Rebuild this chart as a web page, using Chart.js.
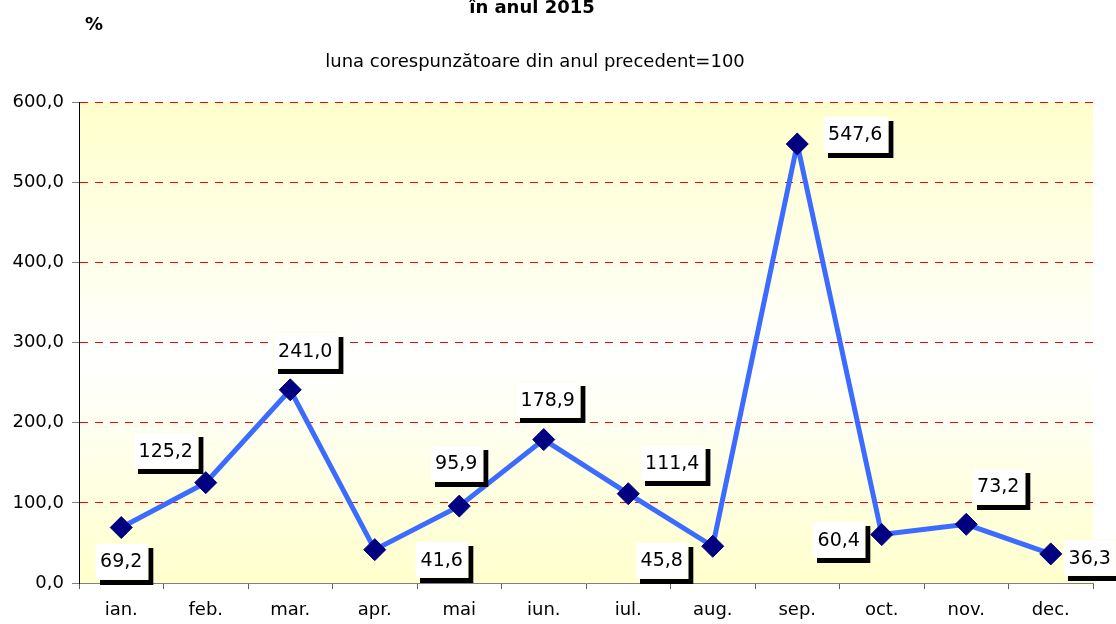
<!DOCTYPE html>
<html>
<head>
<meta charset="utf-8">
<script src="https://cdn.jsdelivr.net/npm/chart.js@4.4.1/dist/chart.umd.min.js"></script>
<style>
  html, body { margin: 0; padding: 0; background: #ffffff; }
  canvas { display: block; }
</style>
</head>
<body>
<canvas id="c" width="1116" height="624"></canvas>
<script>
// ---- data ----
const categories = ['ian.', 'feb.', 'mar.', 'apr.', 'mai', 'iun.', 'iul.', 'aug.', 'sep.', 'oct.', 'nov.', 'dec.'];
const values = [69.2, 125.2, 241.0, 41.6, 95.9, 178.9, 111.4, 45.8, 547.6, 60.4, 73.2, 36.3];
const yTicks = [0, 100, 200, 300, 400, 500, 600];
const titleText = 'în anul 2015';
const subtitleText = 'luna corespunzătoare din anul precedent=100';
const unitText = '%';

// ---- label placement (box centre offset from its point, px) ----
const labelOffsets = [[0, 34], [-40, -32], [15, -39], [67, 10], [-3, -43], [4, -40],
                      [44, -31], [-51, 14], [58, -10], [-43, 5], [32, -38], [39, 4]];

const FONT = "'DejaVu Sans', 'Noto Sans', sans-serif";
const fmt = v => v.toFixed(1).replace('.', ',');

const bgPlugin = {
  id: 'bg',
  beforeDraw(chart) {
    const { ctx, chartArea: a } = chart;
    const g = ctx.createLinearGradient(0, a.top, 0, a.bottom);
    g.addColorStop(0, '#FFFFCC');
    g.addColorStop(0.55, '#FFFFFF');
    g.addColorStop(1, '#FFFFCC');
    ctx.save();
    ctx.fillStyle = g;
    ctx.fillRect(a.left, a.top, a.right - a.left, a.bottom - a.top);
    ctx.restore();
  },
  afterDraw(chart) {
    const ctx = chart.ctx;
    ctx.save();
    ctx.fillStyle = '#000';
    ctx.textAlign = 'center';
    ctx.textBaseline = 'middle';
    ctx.font = 'bold 18px ' + FONT;
    ctx.fillText(titleText, 532, 8);
    ctx.fillText(unitText, 94, 25);
    ctx.font = '18px ' + FONT;
    ctx.fillText(subtitleText, 535, 62);
    ctx.restore();
  }
};

const labelPlugin = {
  id: 'boxLabels',
  afterDatasetsDraw(chart) {
    const ctx = chart.ctx;
    const meta = chart.getDatasetMeta(0);
    ctx.save();
    ctx.font = '19px ' + FONT;
    ctx.textAlign = 'center';
    ctx.textBaseline = 'middle';
    meta.data.forEach((pt, i) => {
      const txt = fmt(values[i]);
      const w = ctx.measureText(txt).width + 11;
      const h = 37;
      const cx = pt.x + labelOffsets[i][0];
      const cy = pt.y + labelOffsets[i][1];
      const x = Math.round(cx - w / 2), y = Math.round(cy - h / 2);
      ctx.fillStyle = '#000';
      ctx.fillRect(x + 5, y + 5, w, h);
      ctx.fillStyle = '#FFFFFF';
      ctx.fillRect(x, y, w, h);
      ctx.strokeStyle = '#FFFFE0';
      ctx.lineWidth = 1;
      ctx.strokeRect(x + 0.5, y + 0.5, w - 1, h - 1);
      ctx.fillStyle = '#000';
      ctx.fillText(txt, cx, cy + 1);
    });
    ctx.restore();
  }
};

new Chart(document.getElementById('c'), {
  type: 'line',
  data: {
    labels: categories,
    datasets: [{
      data: values,
      borderColor: '#3B6BFF',
      borderWidth: 5,
      pointStyle: 'rectRot',
      pointRadius: 11,
      pointHoverRadius: 11,
      pointBackgroundColor: '#000080',
      pointBorderColor: '#000080',
      pointBorderWidth: 1,
      tension: 0,
      fill: false
    }]
  },
  options: {
    responsive: false,
    devicePixelRatio: 1,
    animation: false,
    events: [],
    layout: { padding: { left: 0, right: 23, top: 102, bottom: 0 } },
    plugins: { legend: { display: false }, title: { display: false }, tooltip: { enabled: false } },
    scales: {
      x: {
        offset: true,
        grid: { drawOnChartArea: false, drawTicks: true, tickLength: 6, offset: true, color: '#606060', tickColor: '#606060' },
        border: { display: true, color: '#808080', width: 1 },
        ticks: { font: { family: FONT, size: 18 }, color: '#000', padding: 11, maxRotation: 0 },
        afterFit: s => { s.height = 41; }
      },
      y: {
        min: 0, max: 600,
        afterBuildTicks: s => { s.ticks = yTicks.map(v => ({ value: v })); },
        grid: {
          color: c => (c.tick && c.tick.value === 0) ? 'rgba(0,0,0,0)' : '#FF0000',
          lineWidth: 1,
          drawTicks: true,
          tickLength: 7,
          tickColor: '#808080',
          tickBorderDash: []
        },
        border: { display: true, color: '#000000', width: 1, dash: [8, 7] },
        ticks: { font: { family: FONT, size: 18 }, color: '#000', padding: 8, callback: v => fmt(v) },
        afterFit: s => { s.width = 79; }
      }
    }
  },
  plugins: [bgPlugin, labelPlugin]
});
</script>
</body>
</html>
